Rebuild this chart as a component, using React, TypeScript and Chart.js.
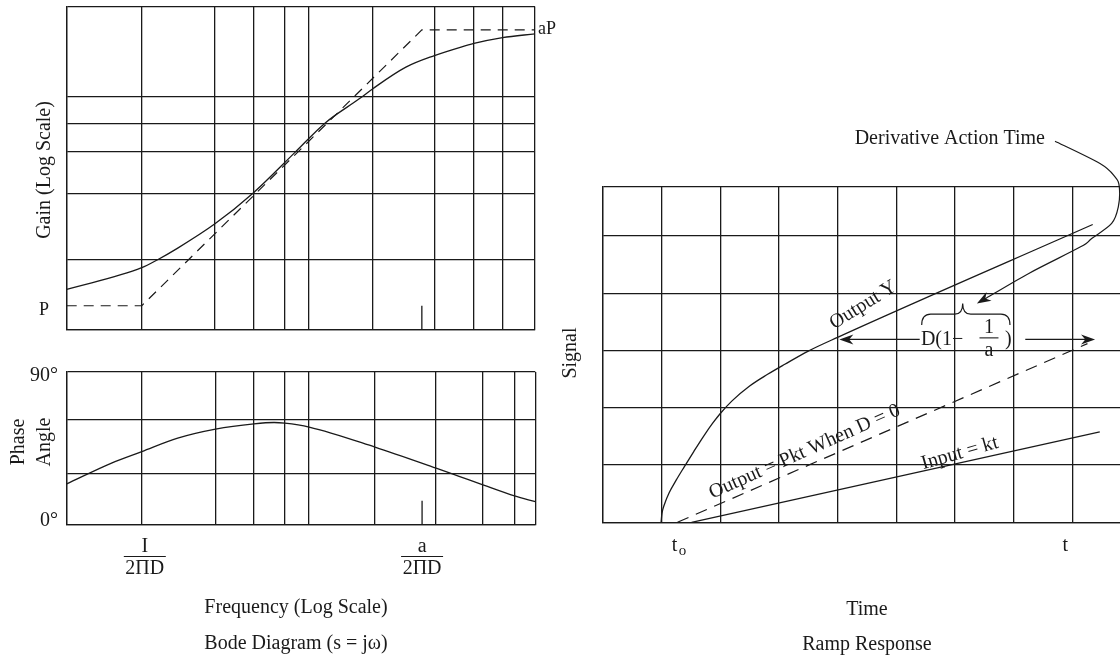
import React, { useEffect, useRef } from "react";
import { Chart, registerables } from "chart.js";
Chart.register(...registerables);

const W = 1120;
const H = 658;
const FONT = '"Liberation Serif", "Times New Roman", serif';
const INK = "#1a1a1a";
const GRID_W = 1.3;

// ---------- Bode diagram (x = log10(ω·2πD)) ----------
const bodeXMin = -0.268;
const bodeXMax = 1.404;

const gainYMin = -0.088;
const gainYMax = 1.085;
const gainGridX = [-0.268, 0, 0.26, 0.401, 0.509, 0.596, 0.825, 1.045, 1.186, 1.288, 1.404];
const gainGridY = [-0.088, 0.166, 0.408, 0.557, 0.662, 0.758, 1.085];

const gainCurveX = [-0.268, 0, 0.055, 0.127, 0.26, 0.397, 0.548, 0.654, 0.779, 0.825, 0.943, 1.045, 1.14, 1.186, 1.288, 1.404];
const gainCurveY = [0.059, 0.138, 0.166, 0.208, 0.296, 0.408, 0.557, 0.662, 0.752, 0.787, 0.865, 0.907, 0.938, 0.951, 0.972, 0.986];

const gainAsymX = [-0.268, 0, 1, 1.404];
const gainAsymY = [0, 0, 1, 1];

const gainMarkX = [1, 1];
const gainMarkY = [-0.088, 0];

const phaseYMin = 0;
const phaseYMax = 90;
const phaseGridX = [-0.268, 0, 0.263, 0.4, 0.51, 0.597, 0.832, 1.05, 1.217, 1.33, 1.404];
const phaseGridY = [0, 30.5, 61.9, 90];

const phaseCurveX = [-0.268, -0.11, 0, 0.128, 0.263, 0.4, 0.472, 0.51, 0.597, 0.832, 1.05, 1.132, 1.217, 1.33, 1.404];
const phaseCurveY = [24.2, 36.3, 43.2, 51.1, 56.4, 59.5, 60.3, 59.9, 57.6, 45.8, 33.4, 28.6, 23.6, 17.1, 13.7];

const phaseMarkX = [1, 1];
const phaseMarkY = [0, 14.3];

// ---------- Ramp response ----------
const rampXMin = 0;
const rampXMax = 8.815;
const rampYMin = 0;
const rampYMax = 5.86;
const rampGridX = [0, 1, 2, 3, 4, 5, 6, 7, 8];
const rampGridY = [0, 1, 2, 3, 4, 5, 5.86];

const outputX = [0.99, 1.005, 1.05, 1.13, 1.25, 1.38, 1.55, 1.72, 1.87, 2.0, 2.2, 2.5, 2.8, 3.1, 3.5, 4.0, 8.35];
const outputY = [0, 0.15, 0.32, 0.52, 0.74, 0.96, 1.24, 1.51, 1.73, 1.9, 2.12, 2.38, 2.58, 2.76, 2.99, 3.23, 5.2];

const noDerivX = [1.27, 8.26];
const noDerivY = [0, 3.12];

const inputX = [1.51, 8.47];
const inputY = [0, 1.58];

// annotation anchors (ramp data units)
const curvedArrowX = [7.707, 8.474, 8.73, 8.803, 8.786, 8.673, 8.332, 8.143, 7.26, 6.375];
const curvedArrowY = [6.654, 6.265, 6.031, 5.857, 5.508, 5.218, 4.956, 4.81, 4.346, 3.822];
const dimArrowY = 3.194;
const dimLeft = [5.4, 4.03];
const dimRight = [7.2, 8.39];
const braceX = [5.434, 6.133, 6.939];
const braceY = [3.443, 3.635, 3.822];

function pts(xs: number[], ys: number[]) {
  return xs.map((x, i) => ({ x, y: ys[i] }));
}

function txt(
  ctx: CanvasRenderingContext2D,
  s: string,
  x: number,
  y: number,
  size = 20,
  align: CanvasTextAlign = "center",
  rot = 0
) {
  ctx.save();
  ctx.translate(x, y);
  if (rot) ctx.rotate((rot * Math.PI) / 180);
  ctx.font = `${size}px ${FONT}`;
  ctx.fillStyle = INK;
  ctx.textAlign = align;
  ctx.textBaseline = "middle";
  ctx.fillText(s, 0, 0);
  ctx.restore();
}

function line(ctx: CanvasRenderingContext2D, x1: number, y1: number, x2: number, y2: number, w = 1.2) {
  ctx.save();
  ctx.strokeStyle = INK;
  ctx.lineWidth = w;
  ctx.beginPath();
  ctx.moveTo(x1, y1);
  ctx.lineTo(x2, y2);
  ctx.stroke();
  ctx.restore();
}

function arrowHead(ctx: CanvasRenderingContext2D, tx: number, ty: number, ang: number, len = 14, half = 5) {
  ctx.save();
  ctx.translate(tx, ty);
  ctx.rotate(ang);
  ctx.fillStyle = INK;
  ctx.beginPath();
  ctx.moveTo(0, 0);
  ctx.lineTo(-len, -half);
  ctx.lineTo(-len * 0.7, 0);
  ctx.lineTo(-len, half);
  ctx.closePath();
  ctx.fill();
  ctx.restore();
}

function fraction(ctx: CanvasRenderingContext2D, num: string, den: string, cx: number, yNum: number, yBar: number, yDen: number, barW: number) {
  txt(ctx, num, cx, yNum);
  line(ctx, cx - barW / 2, yBar, cx + barW / 2, yBar, 1.1);
  txt(ctx, den, cx, yDen);
}

function axisCfg(min: number, max: number, ticks: number[]) {
  return {
    type: "linear" as const,
    min,
    max,
    afterBuildTicks: (scale: any) => {
      scale.ticks = ticks.map((v) => ({ value: v }));
    },
    ticks: { display: false },
    grid: { color: INK, lineWidth: GRID_W, drawTicks: false },
    border: { display: true, color: INK, width: GRID_W },
  };
}

function baseOptions(pad: { left: number; right: number; top: number; bottom: number }, xs: any, ys: any) {
  return {
    responsive: false,
    animation: false as const,
    devicePixelRatio: 1,
    events: [],
    layout: { padding: pad, autoPadding: false },
    plugins: { legend: { display: false }, tooltip: { enabled: false }, title: { display: false } },
    elements: { point: { radius: 0, hoverRadius: 0 } },
    scales: { x: xs, y: ys },
  };
}

const solid = (data: any[], smooth = true) => ({
  data,
  borderColor: INK,
  borderWidth: 1.3,
  pointRadius: 0,
  fill: false,
  cubicInterpolationMode: smooth ? ("monotone" as const) : ("default" as const),
  tension: 0,
});

const dashed = (data: any[], dash: number[]) => ({
  data,
  borderColor: INK,
  borderWidth: 1.2,
  borderDash: dash,
  pointRadius: 0,
  fill: false,
  tension: 0,
});

function makeGain(canvas: HTMLCanvasElement) {
  return new Chart(canvas, {
    type: "line",
    data: {
      datasets: [
        solid(pts(gainCurveX, gainCurveY)),
        dashed(pts(gainAsymX, gainAsymY), [10, 7]),
        solid(pts(gainMarkX, gainMarkY), false),
      ],
    },
    options: baseOptions(
      { left: 66.7, right: W - 535, top: 6.5, bottom: H - 330 },
      axisCfg(bodeXMin, bodeXMax, gainGridX),
      axisCfg(gainYMin, gainYMax, gainGridY)
    ) as any,
    plugins: [
      {
        id: "gainLabels",
        afterDraw(chart: any) {
          const ctx = chart.ctx;
          const y = chart.scales.y;
          const x = chart.scales.x;
          txt(ctx, "Gain (Log Scale)", 44.6, 170, 20, "center", -90);
          txt(ctx, "P", 44, y.getPixelForValue(0) + 5, 18);
          txt(ctx, "aP", x.right + 3, y.getPixelForValue(1) - 1, 18, "left");
        },
      },
    ],
  });
}

function makePhase(canvas: HTMLCanvasElement) {
  return new Chart(canvas, {
    type: "line",
    data: {
      datasets: [solid(pts(phaseCurveX, phaseCurveY)), solid(pts(phaseMarkX, phaseMarkY), false)],
    },
    options: baseOptions(
      { left: 66.7, right: W - 535.3, top: 372, bottom: H - 525 },
      axisCfg(bodeXMin, bodeXMax, phaseGridX),
      axisCfg(phaseYMin, phaseYMax, phaseGridY)
    ) as any,
    plugins: [
      {
        id: "phaseLabels",
        afterDraw(chart: any) {
          const ctx = chart.ctx;
          const y = chart.scales.y;
          const x = chart.scales.x;
          txt(ctx, "90°", 58, y.getPixelForValue(90) + 4, 20, "right");
          txt(ctx, "0°", 58, y.getPixelForValue(0) - 4, 20, "right");
          txt(ctx, "Phase", 19, 442, 20, "center", -90);
          txt(ctx, "Angle", 44.5, 442, 20, "center", -90);
          fraction(ctx, "I", "2ΠD", x.getPixelForValue(0) + 3, 547, 556.5, 569, 42);
          fraction(ctx, "a", "2ΠD", x.getPixelForValue(1), 547, 556.5, 569, 42);
          txt(ctx, "Frequency (Log Scale)", 296, 608);
          txt(ctx, "Bode Diagram (s = jω)", 296, 644);
        },
      },
    ],
  });
}

function catmull(ctx: CanvasRenderingContext2D, p: { x: number; y: number }[]) {
  ctx.moveTo(p[0].x, p[0].y);
  for (let i = 0; i < p.length - 1; i++) {
    const p0 = p[i - 1] || p[i];
    const p1 = p[i];
    const p2 = p[i + 1];
    const p3 = p[i + 2] || p2;
    const c1x = p1.x + (p2.x - p0.x) / 6;
    const c1y = p1.y + (p2.y - p0.y) / 6;
    const c2x = p2.x - (p3.x - p1.x) / 6;
    const c2y = p2.y - (p3.y - p1.y) / 6;
    ctx.bezierCurveTo(c1x, c1y, c2x, c2y, p2.x, p2.y);
  }
}

function makeRamp(canvas: HTMLCanvasElement) {
  return new Chart(canvas, {
    type: "line",
    data: {
      datasets: [
        solid(pts(outputX, outputY)),
        dashed(pts(noDerivX, noDerivY), [12, 8]),
        solid(pts(inputX, inputY), false),
      ],
    },
    options: baseOptions(
      { left: 603, right: 0, top: 186.7, bottom: H - 522.3 },
      axisCfg(rampXMin, rampXMax, rampGridX),
      axisCfg(rampYMin, rampYMax, rampGridY)
    ) as any,
    plugins: [
      {
        id: "rampLabels",
        afterDraw(chart: any) {
          const ctx: CanvasRenderingContext2D = chart.ctx;
          const xs = chart.scales.x;
          const ys = chart.scales.y;
          const px = (v: number) => xs.getPixelForValue(v);
          const py = (v: number) => ys.getPixelForValue(v);

          txt(ctx, "Signal", 571, 353, 20, "center", -90);
          // t_o and t
          txt(ctx, "t", px(1.22), 546, 20);
          txt(ctx, "o", px(1.22) + 8, 551, 15);
          txt(ctx, "t", px(7.88), 546, 20);
          txt(ctx, "Time", px(4.5), 610);
          txt(ctx, "Ramp Response", px(4.5), 645);

          // curve labels
          txt(ctx, "Output Y", px(4.438), py(3.792), 20, "center", -32);
          txt(ctx, "Output = Pkt When D = 0", px(3.439), py(1.232), 20, "center", -24);
          txt(ctx, "Input = kt", px(6.085), py(1.204), 20, "center", -16);

          // D(1 - 1/a) dimension
          const yd = py(dimArrowY);
          txt(ctx, "D(1−", px(5.42), yd, 20, "left");
          fraction(ctx, "1", "a", px(6.581), yd - 12, yd - 1.5, yd + 11, 19);
          txt(ctx, ")", px(6.911), yd, 20);
          line(ctx, px(dimLeft[0]), yd, px(dimLeft[1]) + 8, yd);
          arrowHead(ctx, px(dimLeft[1]), yd, Math.PI);
          line(ctx, px(dimRight[0]), yd, px(dimRight[1]) - 8, yd);
          arrowHead(ctx, px(dimRight[1]), yd, 0);

          // brace
          const bx0 = px(braceX[0]);
          const bxt = px(braceX[1]);
          const bx1 = px(braceX[2]);
          const yb = py(braceY[0]);
          const ym = py(braceY[1]);
          const yt = py(braceY[2]);
          ctx.save();
          ctx.strokeStyle = INK;
          ctx.lineWidth = 1.2;
          ctx.beginPath();
          ctx.moveTo(bx0, yb);
          ctx.quadraticCurveTo(bx0, ym, bx0 + 9, ym);
          ctx.lineTo(bxt - 8, ym);
          ctx.quadraticCurveTo(bxt, ym, bxt, yt);
          ctx.quadraticCurveTo(bxt, ym, bxt + 8, ym);
          ctx.lineTo(bx1 - 9, ym);
          ctx.quadraticCurveTo(bx1, ym, bx1, yb);
          ctx.stroke();
          ctx.restore();

          // Derivative Action Time + curved arrow
          txt(ctx, "Derivative Action Time", px(7.536), 138.5, 20, "right");
          const cp = curvedArrowX.map((v, i) => ({ x: px(v), y: py(curvedArrowY[i]) }));
          ctx.save();
          ctx.strokeStyle = INK;
          ctx.lineWidth = 1.2;
          ctx.beginPath();
          catmull(ctx, cp.slice(0, cp.length - 1).concat([{ x: cp[cp.length - 1].x + 8, y: cp[cp.length - 1].y - 4.5 }]));
          ctx.stroke();
          ctx.restore();
          const a = cp[cp.length - 1];
          const b = cp[cp.length - 2];
          arrowHead(ctx, a.x, a.y, Math.atan2(a.y - b.y, a.x - b.x));
        },
      },
    ],
  });
}

export default function App() {
  const gRef = useRef<HTMLCanvasElement>(null);
  const pRef = useRef<HTMLCanvasElement>(null);
  const rRef = useRef<HTMLCanvasElement>(null);

  useEffect(() => {
    const charts = [makeGain(gRef.current!), makePhase(pRef.current!), makeRamp(rRef.current!)];
    return () => charts.forEach((c) => c.destroy());
  }, []);

  const cs: React.CSSProperties = { position: "absolute", left: 0, top: 0 };
  return (
    <div
      style={{
        position: "fixed",
        left: 0,
        top: 0,
        width: W,
        height: H,
        overflow: "hidden",
        background: "#fff",
      }}
    >
      <canvas ref={gRef} width={W} height={H} style={cs} />
      <canvas ref={pRef} width={W} height={H} style={cs} />
      <canvas ref={rRef} width={W} height={H} style={cs} />
    </div>
  );
}
